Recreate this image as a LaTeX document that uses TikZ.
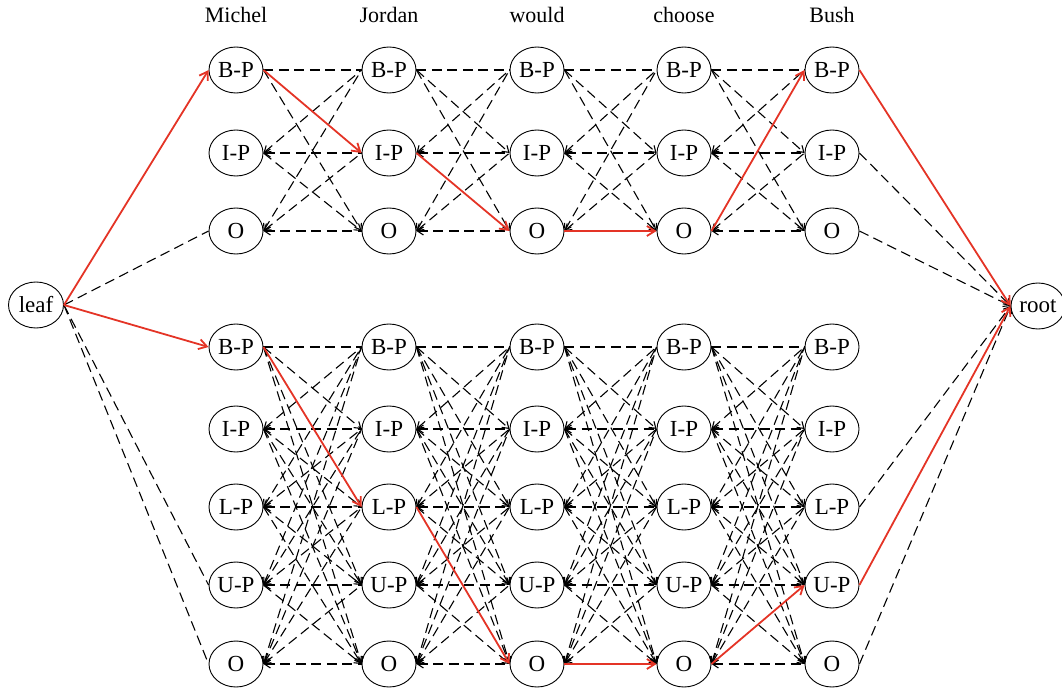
\documentclass[tikz,border=0pt]{standalone}
\usepackage{fontspec}
\setmainfont{Liberation Serif}
\usetikzlibrary{shapes.geometric,arrows.meta}
\definecolor{pathred}{RGB}{228,52,38}
\begin{document}
\begin{tikzpicture}[x=1pt,y=-1pt,
  st/.style={ellipse,draw,line width=0.9pt,minimum width=54pt,minimum height=46pt,inner sep=0pt,font=\fontsize{23}{26}\selectfont},
  word/.style={anchor=base,font=\fontsize{22}{25}\selectfont},
  dedge/.style={dash pattern=on 10pt off 5.5pt,line width=1.1pt},
  redge/.style={draw=pathred,line width=1.8pt,-{Straight Barb[length=8pt,width=10pt]}},
  tipR/.style={-{Straight Barb[length=6pt,width=8pt]}},
  tipL/.style={{Straight Barb[length=6pt,width=8pt]}-},
]
\useasboundingbox (0,0) rectangle (1062,695);

% words
\foreach \w/\x [count=\i] in {Michel/236,Jordan/389,would/537,choose/684,Bush/832}
  \node[word] (w\i) at (\x,23) {\w};

% state nodes
\foreach \x [count=\c] in {236,389,537,684,832} {
  \foreach \lab/\y [count=\r from 0] in {B-P/70,I-P/153,O/231}
    \node[st] (t\c-\r) at (\x,\y) {\lab};
  \foreach \lab/\y [count=\r from 0] in {B-P/347,I-P/429,L-P/507,U-P/585,O/664}
    \node[st] (b\c-\r) at (\x,\y) {\lab};
}
\node[st,minimum width=55pt] (leaf) at (36,305) {leaf};
\node[st] (root) at (1038,306) {root};

% top dashed transitions
\foreach \c in {1,2,3,4} {
  \pgfmathtruncatemacro\n{\c+1}
  \foreach \a in {0,1,2} {
    \foreach \b in {0,1,2} {
      \pgfmathtruncatemacro\key{\c*100+\a*10+\b}
      \pgfmathtruncatemacro\isred{(\key==101)||(\key==212)||(\key==322)||(\key==420)}
      \ifnum\isred=0
        \ifnum\b>\a \draw[dedge,tipR] (t\c-\a.east) -- (t\n-\b.west);
        \else\ifnum\b<\a \draw[dedge,tipL] (t\c-\a.east) -- (t\n-\b.west);
        \else\ifnum\a=0 \draw[dedge] (t\c-\a.east) -- (t\n-\b.west);
        \else \draw[dedge,tipL] (t\c-\a.east) -- (t\n-\b.west);
        \fi\fi\fi
      \fi
    }
  }
}

% bottom dashed transitions
\foreach \c in {1,2,3,4} {
  \pgfmathtruncatemacro\n{\c+1}
  \foreach \a in {0,1,2,3,4} {
    \foreach \b in {0,1,2,3,4} {
      \pgfmathtruncatemacro\key{\c*100+\a*10+\b}
      \pgfmathtruncatemacro\isred{(\key==102)||(\key==224)||(\key==344)||(\key==443)}
      \ifnum\isred=0
        \ifnum\b>\a \draw[dedge,tipR] (b\c-\a.east) -- (b\n-\b.west);
        \else\ifnum\b<\a \draw[dedge,tipL] (b\c-\a.east) -- (b\n-\b.west);
        \else\ifnum\a=0 \draw[dedge] (b\c-\a.east) -- (b\n-\b.west);
        \else \draw[dedge,tipL] (b\c-\a.east) -- (b\n-\b.west);
        \fi\fi\fi
      \fi
    }
  }
}

% leaf and root dashed
\draw[dedge] (leaf.east) -- (t1-2.west);
\draw[dedge] (leaf.east) -- (b1-3.west);
\draw[dedge] (leaf.east) -- (b1-4.west);
\draw[dedge,tipR] (t5-1.east) -- (root.west);
\draw[dedge,tipR] (t5-2.east) -- (root.west);
\draw[dedge,tipR] (b5-2.east) -- (root.west);
\draw[dedge,tipR] (b5-4.east) -- (root.west);

% red paths
\draw[redge] (leaf.east) -- (t1-0.west);
\draw[redge] (t1-0.east) -- (t2-1.west);
\draw[redge] (t2-1.east) -- (t3-2.west);
\draw[redge] (t3-2.east) -- (t4-2.west);
\draw[redge] (t4-2.east) -- (t5-0.west);
\draw[redge] (t5-0.east) -- (root.west);
\draw[redge] (leaf.east) -- (b1-0.west);
\draw[redge] (b1-0.east) -- (b2-2.west);
\draw[redge] (b2-2.east) -- (b3-4.west);
\draw[redge] (b3-4.east) -- (b4-4.west);
\draw[redge] (b4-4.east) -- (b5-3.west);
\draw[redge] (b5-3.east) -- (root.west);
\end{tikzpicture}
\end{document}
